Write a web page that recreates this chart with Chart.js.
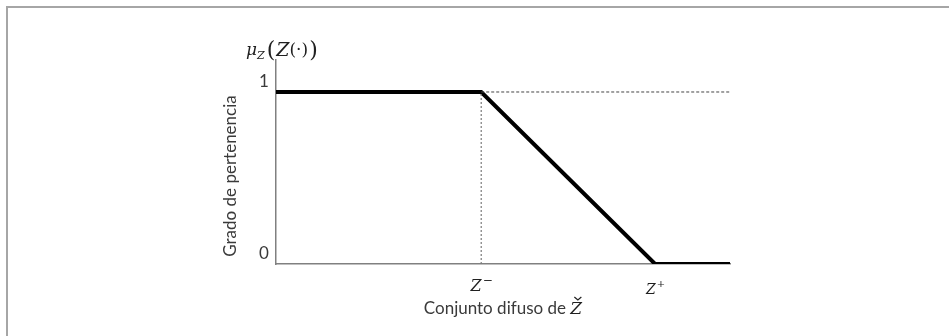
<!DOCTYPE html>
<html>
<head>
<meta charset="utf-8">
<script src="https://cdn.jsdelivr.net/npm/chart.js@4.4.0/dist/chart.umd.min.js"></script>
<style>
  html, body { margin: 0; padding: 0; background: #fff; }
  #caja { width: 949px; height: 336px; }
</style>
</head>
<body>
<div id="caja"><canvas id="grafica" width="949" height="336"></canvas></div>
<script>
// datos de la funcion de pertenencia
var puntosX = [0, 45.2, 83.5, 100];
var gradoY = [1, 1, 0, 0];
var zMenos = 45.2;
var zMas = 83.5;
var ticksY = [0, 1];
var etiquetasY = ['0', '1'];
var tituloY = 'Grado de pertenencia';
var tituloX = 'Conjunto difuso de ';

var serif = '"DejaVu Serif", "Liberation Serif", serif';
var sans = 'Lato, "Open Sans", sans-serif';

function pares(xs, ys) {
    return xs.map(function (x, i) { return { x: x, y: ys[i] }; });
}

// textos y marco dibujados encima
var textos = {
    id: 'textos',
    beforeDraw: function (chart) {
        var c = chart.ctx;
        c.save();
        c.fillStyle = '#fff';
        c.fillRect(0, 0, chart.width, chart.height);
        // marco gris
        c.strokeStyle = '#a6a6a6';
        c.lineWidth = 2;
        c.beginPath();
        c.moveTo(7, chart.height);
        c.lineTo(7, 7);
        c.lineTo(chart.width, 7);
        c.stroke();
        c.restore();
    },
    afterDraw: function (chart) {
        var c = chart.ctx;
        var sx = chart.scales.x, sy = chart.scales.y;
        var left = chart.chartArea.left;
        c.save();
        c.fillStyle = '#3a3a3a';
        c.textBaseline = 'middle';

        // etiquetas eje y
        c.font = '17px ' + sans;
        c.textAlign = 'center';
        ticksY.forEach(function (v, i) {
            c.fillText(etiquetasY[i], left - 12, sy.getPixelForValue(v) - 10);
        });

        // titulo eje y
        c.save();
        c.translate(left - 45, 176);
        c.rotate(-Math.PI / 2);
        c.fillText(tituloY, 0, 0);
        c.restore();

        // titulo eje x
        c.font = '17px ' + sans;
        c.textAlign = 'left';
        var w1 = c.measureText(tituloX).width;
        c.font = 'italic 17px ' + serif;
        var w2 = c.measureText('Z').width;
        var x0 = 503 - (w1 + w2) / 2;
        c.font = '17px ' + sans;
        c.fillText(tituloX, x0, 309);
        c.font = 'italic 17px ' + serif;
        c.fillStyle = '#202020';
        c.fillText('Z', x0 + w1, 310);
        c.lineWidth = 1.2;
        c.strokeStyle = '#202020';
        c.beginPath();
        c.moveTo(x0 + w1 + 4, 297);
        c.lineTo(x0 + w1 + 7.5, 300);
        c.lineTo(x0 + w1 + 11, 297);
        c.stroke();

        // etiquetas Z- y Z+
        c.fillStyle = '#202020';
        function zeta(px, py, sig, size) {
            c.font = 'italic ' + size + 'px ' + serif;
            var wz = c.measureText('Z').width;
            c.font = (size - 4) + 'px ' + serif;
            var ws = c.measureText(sig).width;
            var xs = px - (wz + ws) / 2;
            c.font = 'italic ' + size + 'px ' + serif;
            c.fillText('Z', xs, py);
            c.font = (size - 4) + 'px ' + serif;
            c.fillText(sig, xs + wz + 1, py - 6);
        }
        c.textAlign = 'left';
        zeta(sx.getPixelForValue(zMenos), 287, '\u2212', 16);
        zeta(sx.getPixelForValue(zMas), 290, '+', 14);

        // etiqueta mu_Z(Z(.))
        var x = 246, y = 51;
        c.font = 'italic 17px ' + serif;
        c.fillText('\u03bc', x, y);
        x += c.measureText('\u03bc').width;
        c.font = 'italic 11px ' + serif;
        c.fillText('Z', x, y + 5);
        x += c.measureText('Z').width + 2;
        c.font = '22px ' + serif;
        c.fillText('(', x, y);
        x += c.measureText('(').width + 1;
        c.font = 'italic 19px ' + serif;
        c.fillText('Z', x, y);
        x += c.measureText('Z').width;
        c.font = '17px ' + serif;
        c.fillText('(\u00b7)', x, y);
        x += c.measureText('(\u00b7)').width + 1;
        c.font = '22px ' + serif;
        c.fillText(')', x, y);
        c.restore();
    }
};

var ctx = document.getElementById('grafica').getContext('2d');
var grafica = new Chart(ctx, {
    type: 'scatter',
    data: {
        datasets: [
            {
                label: 'guia vertical',
                data: [{ x: zMenos, y: 0 }, { x: zMenos, y: 1 }],
                showLine: true,
                borderColor: '#7a7a7a',
                borderWidth: 1.2,
                borderDash: [2, 2],
                pointRadius: 0
            },
            {
                label: 'guia horizontal',
                data: [{ x: zMenos, y: 1 }, { x: 100, y: 1 }],
                showLine: true,
                borderColor: '#444',
                borderWidth: 1,
                borderDash: [3, 2],
                pointRadius: 0
            },
            {
                label: 'pertenencia',
                data: pares(puntosX, gradoY),
                showLine: true,
                borderColor: '#000',
                borderWidth: 4,
                pointRadius: 0,
                tension: 0
            }
        ]
    },
    options: {
        responsive: false,
        animation: false,
        layout: { padding: { left: 276, right: 219, top: 60, bottom: 72 } },
        plugins: {
            legend: { display: false },
            tooltip: { enabled: false }
        },
        scales: {
            x: {
                type: 'linear',
                min: 0,
                max: 100,
                grid: { display: false, drawTicks: false, tickLength: 0 },
                ticks: { display: false },
                border: { display: true, color: '#808080', width: 1.5 }
            },
            y: {
                type: 'linear',
                min: 0,
                max: 1.186,
                grid: { display: false, drawTicks: false, tickLength: 0 },
                ticks: { display: false },
                border: { display: true, color: '#808080', width: 1.5 }
            }
        }
    },
    plugins: [textos]
});
</script>
</body>
</html>
